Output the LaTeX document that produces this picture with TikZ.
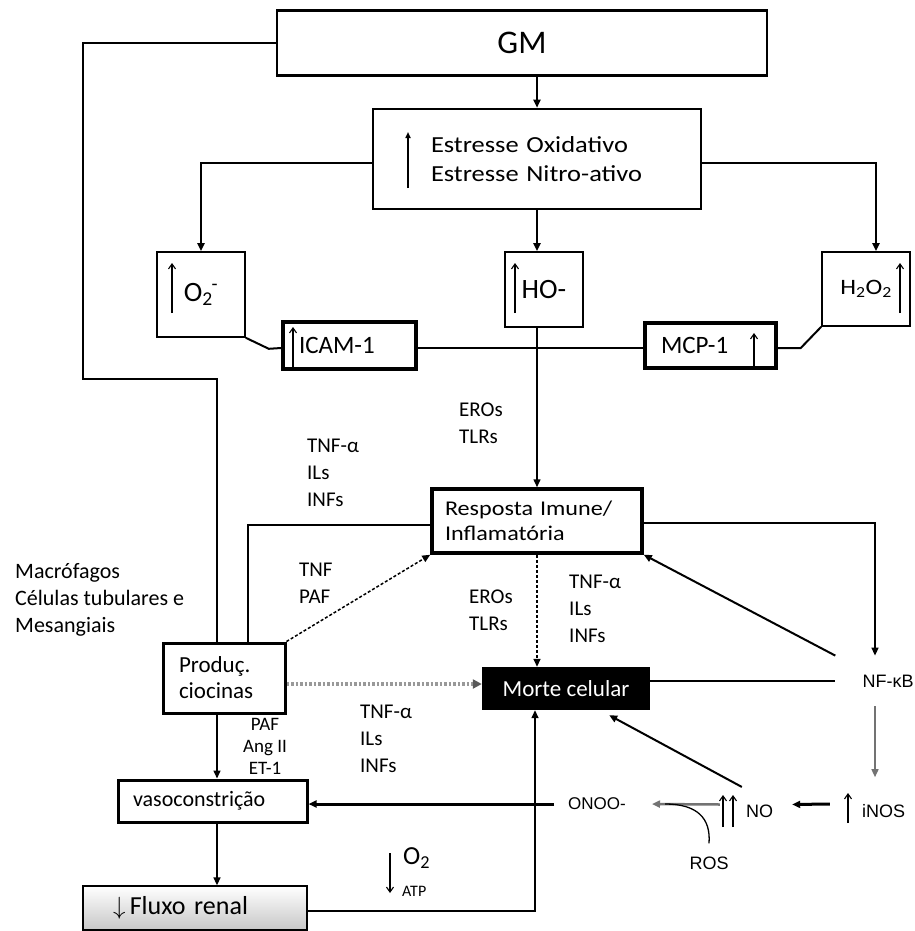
\documentclass[tikz,border=0pt]{standalone}
\usepackage{fontspec}
\setmainfont{Carlito}
\newfontfamily\arialf{Liberation Sans}
\newfontfamily\widef[FakeStretch=1.15]{Carlito}
\usetikzlibrary{arrows.meta}
\newcommand{\fsz}[2]{\fontsize{#1}{#2}\selectfont}
\tikzset{
plainbox/.style={draw, line width=1.6pt, inner sep=0pt},
heavybox/.style={draw, line width=3.5pt, inner sep=0pt},
conn/.style={line width=1.5pt},
arr/.style={conn, -{Triangle[length=8pt,width=7pt]}},
garr/.style={arr, draw=black!55, fill=black!55},
darr/.style={arr, dash pattern=on 3pt off 2pt},
dotarr/.style={line width=3.5pt, draw=black!40, dash pattern=on 2.5pt off 2pt, -{Triangle[length=9pt,width=9pt,color=black!65]}},
uparr/.style={line width=1.1pt, -{Straight Barb[length=5pt,width=7pt]}},
lbl/.style={align=left, inner sep=0pt, anchor=west, font=\fsz{21}{27}},
}
\begin{document}
\begin{tikzpicture}[x=1pt,y=-1pt]
\useasboundingbox (0,0) rectangle (914,931);

\node[plainbox, line width=2.5pt, minimum width=490pt, minimum height=65pt, font=\fsz{33}{36}] (gm) at (522,43) {GM};
\node[plainbox, line width=2.5pt, minimum height=100pt, text width=212pt, inner xsep=58pt, align=left, font=\widef\fsz{23}{29}] (est) at (537,159) {Estresse Oxidativo\\Estresse Nitro-ativo};
\node[plainbox, minimum width=88pt, minimum height=85pt, font=\fsz{28}{30}] (o2) at (201,294.5) {O\textsubscript{2}\kern-1pt\raisebox{2pt}{\textsuperscript{-}}};
\node[plainbox, minimum width=78pt, minimum height=75pt, font=\fsz{28}{30}] (ho) at (544,289.5) {HO-};
\node[plainbox, minimum width=88pt, minimum height=74pt, font=\widef\fsz{22}{24}] (hh) at (866,289) {H\textsubscript{2}O\textsubscript{2}};
\node[heavybox, minimum height=47pt, text width=101pt, inner xsep=16pt, align=left, font=\fsz{25}{28}] (icam) at (349.5,345.5) {ICAM-1};
\node[heavybox, minimum height=45pt, text width=99pt, inner xsep=16pt, align=left, font=\fsz{25}{28}] (mcp) at (710.5,345.5) {MCP-1};
\node[heavybox, minimum height=64pt, text width=184pt, inner xsep=13pt, align=left, font=\widef\fsz{21}{25}] (resp) at (537,521) {Resposta Imune/\\Inflamatória};
\node[heavybox, line width=3pt, minimum height=70pt, text width=90pt, inner xsep=16pt, align=left, font=\fsz{23}{26}] (prod) at (224,678) {Produç.\\ciocinas};
\node[fill=black, text=white, minimum width=168pt, minimum height=43pt, inner sep=0pt, font=\fsz{23}{26}] (morte) at (566,688.5) {Morte celular};
\node[heavybox, line width=3pt, minimum height=42pt, text width=159pt, inner xsep=15pt, align=left, font=\fsz{22}{24}] (vaso) at (212.5,801) {vasoconstrição};
\node[plainbox, line width=1.3pt, top color=white, bottom color=black!22, minimum height=44pt, text width=164pt, inner xsep=30pt, align=left, font=\fsz{26}{28}] (fluxo) at (195,908) {$\downarrow$\,Fluxo renal};

\node[lbl] (eros1) at (459,423) {EROs\\TLRs};
\node[lbl] (tnf1) at (307,473) {TNF-α\\ILs\\INFs};
\node[lbl, font=\fsz{22}{27}] (macro) at (15,600) {Macrófagos\\Células tubulares e\\Mesangiais};
\node[lbl] (tnf2) at (299,583) {TNF\\PAF};
\node[lbl] (eros2) at (469,610) {EROs\\TLRs};
\node[lbl] (tnf3) at (569,609) {TNF-α\\ILs\\INFs};
\node[lbl, anchor=center, align=center, font=\fsz{19}{22}] (paf) at (265,746) {PAF\\Ang II\\ET-1};
\node[lbl] (tnf4) at (360,739) {TNF-α\\ILs\\INFs};
\node[font=\arialf\fsz{18}{20}, inner xsep=27pt, inner ysep=19pt] (nfkb) at (888,681) {NF-κB};
\node[font=\arialf\fsz{18}{20}, inner xsep=32pt, inner ysep=27pt] (inos) at (883.5,811) {iNOS};
\node[font=\arialf\fsz{18}{20}, inner xsep=19pt, inner ysep=18pt] (no) at (759.5,811.5) {NO};
\node[font=\arialf\fsz{17}{20}, inner xsep=14pt, inner ysep=4pt] (onoo) at (597,804) {ONOO-};
\node[font=\arialf\fsz{18}{20}, inner ysep=13pt] (ros) at (709,863) {ROS};
\node[lbl, font=\fsz{26}{28}] (otwo) at (403,858) {O\textsubscript{2}};
\node[lbl, font=\fsz{16}{18}] (atp) at (402,891) {ATP};

\draw[line width=1.5pt, -{Triangle[length=6pt,width=5pt]}] (408,188) -- (408,132);
\draw[uparr] (172,313) -- (172,263);
\draw[uparr] (515,313) -- (515,263);
\draw[uparr] (900,313) -- (900,263);
\draw[uparr] (293,369) -- (293,327);
\draw[uparr] (754,368) -- (754,333);
\draw[uparr] (848,823) -- (848,793);
\draw[uparr] (723,827) -- (723,795);
\draw[uparr] (733,827) -- (733,795);
\draw[uparr] (390,853) -- (390,893);

\draw[arr, line width=2pt] (gm.south -| est.north) -- (est.north);
\draw[arr, line width=2pt] ([yshift=-4pt]est.west) -| (o2.north);
\draw[arr, line width=2pt] (est.south) -- (est.south |- ho.north);
\draw[arr, line width=2pt] ([yshift=-4pt]est.east) -| ([xshift=10pt]hh.north);
\draw[conn, line width=2pt] (o2.south east) -- ++(23,11) -- ([yshift=-2.5pt]icam.west);
\draw[conn, line width=2pt] ([yshift=-2.5pt]icam.east) -- ([yshift=-2.5pt]mcp.west);
\draw[conn, line width=2pt] ([yshift=-2.5pt]mcp.east) -- ++(23,0) -- (hh.south west);
\draw[arr] (ho.south -| resp.north) -- (resp.north);
\draw[conn] (gm.west) -| (83,379) -| ([xshift=-7pt]prod.north);
\draw[conn] ([yshift=-4pt]resp.west) -| ([xshift=24pt]prod.north);
\draw[arr] ([yshift=-2pt]resp.east) -| ([xshift=-13pt]nfkb.north);
\draw[arr, line width=2pt] (nfkb.north west) -- (resp.south east);
\draw[darr] (prod.north east) -- (resp.south west);
\draw[darr] (resp.south) -- (resp.south |- morte.north);
\draw[dotarr] ([yshift=-6pt]prod.east) -- ([yshift=-6pt]prod.east -| morte.west);
\draw[conn] (morte.east |- nfkb.west) -- (nfkb.west);
\draw[garr] ([xshift=-13pt]nfkb.south) -- ([xshift=-8.5pt]inos.north);
\draw[arr, line width=3pt] ([yshift=7pt]inos.west) -- ([yshift=7pt]no.east);
\draw[garr, line width=2.5pt] ([shift={(-7pt,7pt)}]no.west) -- ([xshift=12pt]onoo.east);
\draw[conn, line width=1.3pt] (ros.north) .. controls (711,818) and (697,804) .. ([xshift=25pt]onoo.east);
\draw[arr, line width=2pt] ([xshift=15pt]no.north west) -- ([xshift=-41pt,yshift=-5pt]morte.south east);
\draw[arr, line width=3pt] (onoo.west) -- (onoo.west -| vaso.east);
\draw[arr] ([xshift=-7pt]prod.south) -- ([xshift=4.5pt]vaso.north);
\draw[arr] ([xshift=4.5pt]vaso.south) -- ([xshift=22pt]fluxo.north);
\draw[arr] ([yshift=-3pt]fluxo.east) -| ([xshift=-31pt]morte.south);
\end{tikzpicture}
\end{document}
